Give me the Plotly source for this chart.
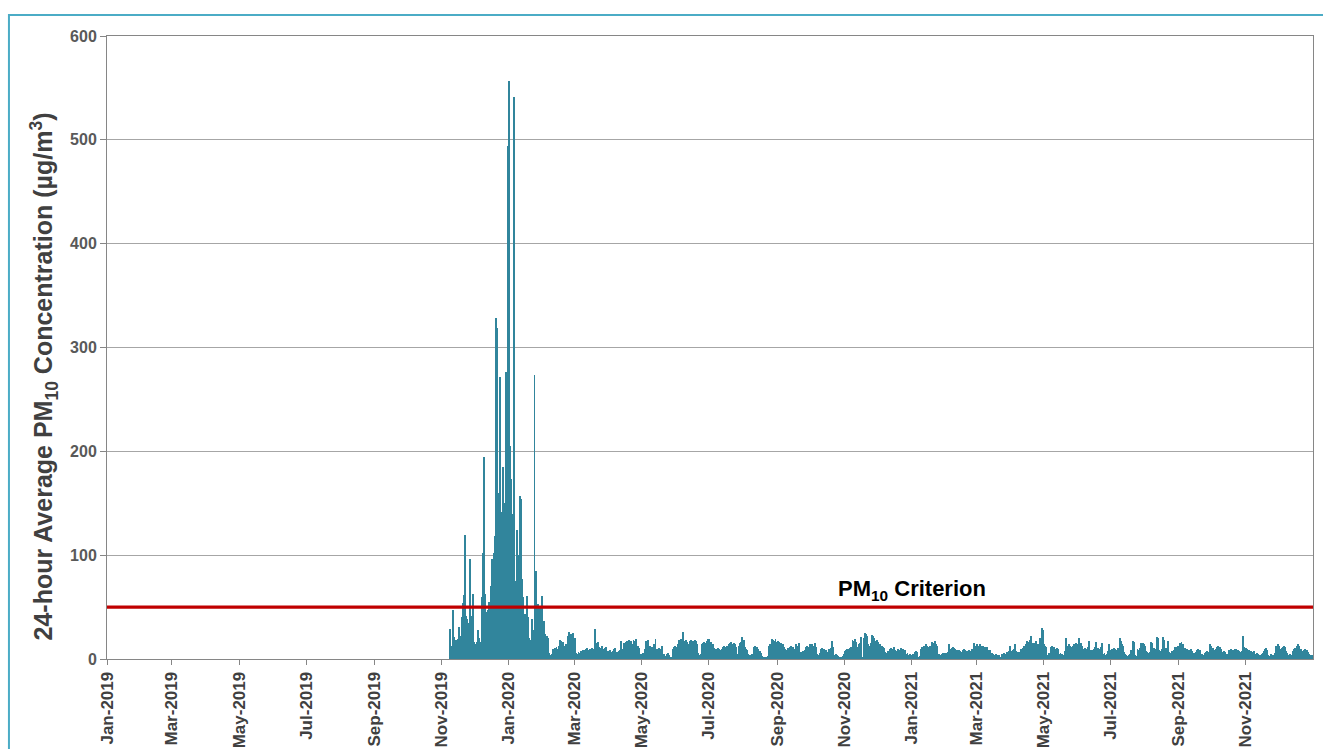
import pandas as pd
import plotly.graph_objects as go

# ---------------- data (24-hour average PM10, ug/m3) ----------------
CRITERION = 50
X_START = "2019-01-01"
X_END = "2022-01-01"
TICK_DATES = pd.date_range("2019-01-01", "2021-11-01", freq="2MS")

# daily values, month by month (Nov 2019 starts on the 8th)
nov_2019 = [29, 9, 13, 47, 21, 13, 18, 19, 31, 18, 22, 40, 54, 62, 119, 41, 39, 35, 96, 12, 41, 63, 16]
dec_2019 = [12, 14, 16, 28, 20, 16, 60, 102, 195, 63, 45, 43, 47, 55, 70, 96, 94, 102, 118, 328,
            319, 126, 160, 272, 142, 185, 130, 150, 276, 240, 494]
jan_2020 = [557, 205, 173, 140, 541, 75, 73, 124, 83, 100, 157, 154, 77, 60, 43, 31, 61, 40, 20, 14,
            18, 39, 28, 274, 85, 39, 53, 28, 51, 37, 61]
feb_2020 = [26, 37, 24, 22, 20, 6, 2, 4, 5, 10, 9, 11, 12, 10, 13, 18, 17, 15, 16, 13,
            12, 14, 22, 26, 20, 24, 18, 25, 16]
mar_2020 = [20, 6, 5, 7, 6, 8, 6, 9, 7, 9, 10, 11, 9, 10, 10, 11, 10, 9, 29, 15,
            14, 16, 12, 11, 13, 10, 9, 11, 12, 8, 7]
apr_2020 = [8, 9, 7, 8, 10, 11, 7, 6, 7, 8, 9, 17, 10, 15, 14, 16, 17, 15, 18, 16,
            17, 14, 18, 17, 19, 12, 13, 11, 5, 4]
may_2020 = [5, 6, 10, 17, 16, 18, 12, 13, 11, 12, 10, 14, 19, 10, 9, 11, 10, 8, 13, 4,
            5, 3, 5, 6, 4, 1, 2, 1, 10, 12, 13]
jun_2020 = [12, 14, 18, 17, 19, 16, 26, 15, 17, 18, 16, 14, 17, 18, 16, 17, 15, 18, 17, 14,
            6, 4, 5, 14, 15, 16, 13, 15, 17, 19]
jul_2020 = [19, 16, 13, 14, 11, 10, 9, 10, 11, 10, 9, 10, 12, 13, 11, 12, 13, 12, 14, 15,
            16, 14, 15, 14, 12, 5, 4, 13, 15, 16, 21]
aug_2020 = [18, 12, 10, 9, 5, 4, 3, 4, 5, 12, 13, 11, 12, 10, 7, 8, 6, 3, 2, 2,
            1, 2, 3, 13, 14, 12, 19, 18, 17, 19, 16]
sep_2020 = [17, 16, 14, 15, 13, 14, 12, 10, 9, 11, 10, 12, 13, 11, 12, 10, 9, 14, 13, 15,
            5, 7, 6, 8, 7, 9, 12, 13, 12, 14]
oct_2020 = [13, 14, 12, 13, 15, 12, 5, 4, 6, 10, 11, 9, 10, 8, 9, 7, 6, 10, 11, 17,
            12, 4, 3, 5, 4, 3, 2, 2, 1, 3, 5]
nov_2020 = [8, 9, 10, 9, 10, 11, 12, 18, 17, 19, 16, 12, 10, 14, 15, 21, 1, 20, 25, 24,
            22, 14, 13, 12, 15, 23, 22, 20, 17, 18]
dec_2020 = [16, 13, 14, 12, 13, 12, 11, 7, 6, 8, 7, 10, 11, 9, 10, 12, 9, 8, 10, 9,
            8, 11, 9, 10, 8, 9, 5, 6, 4, 5, 4]
jan_2021 = [4, 5, 4, 7, 8, 7, 2, 3, 10, 12, 11, 13, 12, 14, 13, 12, 13, 13, 16, 14,
            15, 17, 14, 13, 4, 5, 4, 5, 6, 5, 6]
feb_2021 = [6, 5, 7, 14, 10, 11, 12, 11, 10, 7, 9, 8, 9, 8, 7, 9, 10, 9, 8, 7,
            8, 9, 8, 7, 10, 15, 13, 12]
mar_2021 = [14, 13, 12, 14, 13, 12, 13, 12, 11, 12, 9, 8, 9, 5, 6, 5, 4, 5, 4, 3,
            4, 1, 2, 5, 4, 6, 5, 7, 6, 8, 13]
apr_2021 = [8, 7, 9, 10, 14, 8, 7, 6, 7, 10, 9, 11, 13, 12, 14, 17, 16, 18, 22, 15,
            14, 15, 13, 17, 12, 14, 20, 19, 30, 28]
may_2021 = [14, 13, 12, 4, 3, 6, 12, 13, 11, 12, 10, 9, 11, 10, 5, 6, 5, 4, 0, 8,
            20, 13, 12, 14, 13, 12, 13, 14, 13, 15, 14]
jun_2021 = [13, 20, 14, 15, 13, 10, 11, 9, 10, 12, 17, 9, 8, 9, 10, 12, 16, 10, 11, 9,
            10, 12, 15, 5, 6, 4, 5, 8, 14, 9]
jul_2021 = [9, 10, 8, 11, 10, 9, 11, 10, 20, 17, 14, 13, 7, 5, 4, 3, 4, 5, 9, 8,
            17, 16, 4, 3, 10, 9, 11, 15, 14, 15, 14]
aug_2021 = [13, 8, 7, 6, 7, 16, 15, 10, 11, 9, 10, 21, 20, 9, 8, 10, 21, 18, 10, 11,
            9, 17, 7, 6, 8, 7, 9, 12, 11, 12, 13]
sep_2021 = [13, 15, 16, 14, 10, 11, 9, 10, 9, 8, 9, 10, 8, 6, 5, 7, 9, 10, 8, 9,
            4, 5, 4, 6, 7, 8, 7, 6, 14, 13]
oct_2021 = [10, 11, 9, 10, 12, 13, 11, 12, 10, 7, 6, 8, 7, 5, 5, 9, 8, 10, 9, 8,
            9, 10, 10, 9, 8, 7, 6, 8, 22, 12, 10]
nov_2021 = [11, 10, 9, 7, 8, 6, 7, 8, 5, 4, 6, 5, 4, 3, 5, 6, 8, 10, 11, 9,
            4, 3, 5, 4, 3, 4, 6, 13, 12, 14]
dec_2021 = [13, 10, 11, 12, 13, 12, 8, 6, 4, 3, 5, 4, 8, 10, 11, 10, 13, 14, 13, 9,
            10, 8, 9, 10, 8, 9, 7, 5, 4, 3, 4]

months = [
    ("2019-11-08", nov_2019), ("2019-12-01", dec_2019),
    ("2020-01-01", jan_2020), ("2020-02-01", feb_2020), ("2020-03-01", mar_2020),
    ("2020-04-01", apr_2020), ("2020-05-01", may_2020), ("2020-06-01", jun_2020),
    ("2020-07-01", jul_2020), ("2020-08-01", aug_2020), ("2020-09-01", sep_2020),
    ("2020-10-01", oct_2020), ("2020-11-01", nov_2020), ("2020-12-01", dec_2020),
    ("2021-01-01", jan_2021), ("2021-02-01", feb_2021), ("2021-03-01", mar_2021),
    ("2021-04-01", apr_2021), ("2021-05-01", may_2021), ("2021-06-01", jun_2021),
    ("2021-07-01", jul_2021), ("2021-08-01", aug_2021), ("2021-09-01", sep_2021),
    ("2021-10-01", oct_2021), ("2021-11-01", nov_2021), ("2021-12-01", dec_2021),
]

dates, values = [], []
for first_day, vals in months:
    dates.extend(pd.date_range(first_day + " 12:00", periods=len(vals), freq="D"))
    values.extend(vals)

# ---------------- figure ----------------
FONT = "Liberation Sans, Arial, sans-serif"
DAY_MS = 86400000

fig = go.Figure()
fig.add_trace(go.Bar(
    x=dates, y=values, width=DAY_MS * 0.85,
    marker=dict(color="#31859C", line=dict(width=0)),
    showlegend=False,
))
fig.add_trace(go.Scatter(
    x=[X_START, X_END], y=[CRITERION, CRITERION], mode="lines",
    line=dict(color="#C00000", width=3.2), showlegend=False, hoverinfo="skip",
))

fig.add_annotation(
    x="2021-01-02", y=CRITERION, xref="x", yref="y", yanchor="bottom", xanchor="center",
    text="<b>PM<sub>10</sub> Criterion</b>", showarrow=False, yshift=1,
    font=dict(family=FONT, size=22, color="#000000"),
)
fig.add_annotation(
    xref="paper", yref="paper", x=-0.0525, y=0.453, xanchor="center", yanchor="middle",
    textangle=-90, showarrow=False,
    text="<b>24-hour Average PM<sub>10</sub> Concentration (µg/m<sup>3</sup>)</b>",
    font=dict(family=FONT, size=25, color="#404040"),
)

# outer frame (light blue) running off the right and bottom of the image
fig.add_shape(type="rect", xref="paper", yref="paper",
              x0=-0.0813, x1=1.03, y0=-0.2, y1=1.0337,
              line=dict(color="#4BACC6", width=2), fillcolor="rgba(0,0,0,0)", layer="below")

fig.update_layout(
    width=1323, height=749,
    margin=dict(l=107, r=10, t=36, b=90, autoexpand=False),
    paper_bgcolor="white", plot_bgcolor="white",
    bargap=0,
    xaxis=dict(
        type="date", range=[X_START, X_END],
        tickvals=list(TICK_DATES), tickformat="%b-%Y", tickangle=-90,
        ticks="outside", ticklen=5, tickcolor="#868686",
        showline=True, linecolor="#868686", linewidth=1, mirror=True,
        showgrid=False, zeroline=False, automargin=False,
        tickfont=dict(family=FONT, size=17, color="#404040", weight="bold"),
    ),
    yaxis=dict(
        range=[0, 600], dtick=100, ticks="outside", ticklen=6, tickcolor="#868686",
        showline=True, linecolor="#868686", linewidth=1, mirror=True,
        showgrid=True, gridcolor="#A6A6A6", gridwidth=1, zeroline=False, automargin=False,
        tickfont=dict(family=FONT, size=16, color="#595959", weight="bold"),
    ),
)

fig.write_html(
    "out.html",
    config={"displayModeBar": False},
    post_script="document.body.style.margin='0';document.body.style.overflow='hidden';",
)
